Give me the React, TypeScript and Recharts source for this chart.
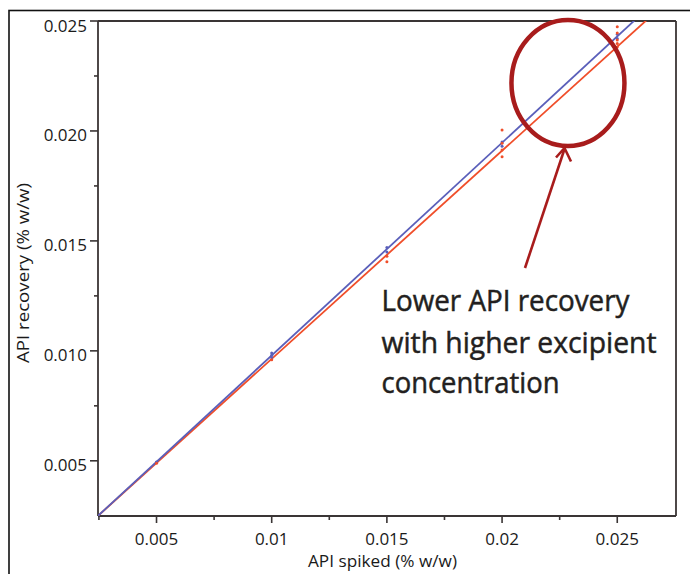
import React from "react";
import { ScatterChart, Scatter, XAxis, YAxis, ReferenceLine, ReferenceDot } from "recharts";

// ---- data ----
const xMajorTicks = [0.005, 0.01, 0.015, 0.02, 0.025];
const xTickLabels = ["0.005", "0.01", "0.015", "0.02", "0.025"];
const xMinorTicks = [0.0025, 0.0075, 0.0125, 0.0175, 0.0225];
const yMajorTicks = [0.005, 0.01, 0.015, 0.02, 0.025];
const yTickLabels = ["0.005", "0.010", "0.015", "0.020", "0.025"];
const yMinorTicks = [0.0075, 0.0125, 0.0175, 0.0225];

// replicate measurements, low excipient (blue)
const blueX = [0.005, 0.005, 0.01, 0.01, 0.01, 0.015, 0.015, 0.02, 0.02, 0.025, 0.025];
const blueY = [0.00495, 0.00492, 0.0099, 0.0098, 0.0097, 0.0147, 0.0145, 0.0195, 0.0193, 0.0244, 0.0242];
// replicate measurements, high excipient (red)
const redX = [0.005, 0.01, 0.015, 0.015, 0.02, 0.02, 0.02, 0.02, 0.025, 0.025, 0.025, 0.025, 0.025];
const redY = [0.00489, 0.0096, 0.0143, 0.01405, 0.02004, 0.01944, 0.01913, 0.01883, 0.02474, 0.02445, 0.02414, 0.02398, 0.02382];

// fitted regression lines (endpoints)
const blueFitX = [0.0024, 0.0275];
const blueFitY = [0.00244, 0.02672];
const redFitX = [0.0024, 0.0275];
const redFitY = [0.00244, 0.0262];

const circleCenterX = 0.02286;
const circleCenterY = 0.02218;

const toPts = (xs: number[], ys: number[]) => xs.map((x, i) => ({ x, y: ys[i] }));
const bluePts = toPts(blueX, blueY);
const redPts = toPts(redX, redY);
const blueFit = toPts(blueFitX, blueFitY);
const redFit = toPts(redFitX, redFitY);

const FONT = "'Open Sans', 'Noto Sans', sans-serif";
const AXIS = "#3a3535";
const BLUE = "#5a5fba";
const RED = "#f04e2a";
const DARKRED = "#a81c1c";

const near = (a: number, b: number) => Math.abs(a - b) < 1e-7;

const YTick = (props: any) => {
  const { x, y, payload } = props;
  const idx = yMajorTicks.findIndex((t) => near(t, payload.value));
  const major = idx >= 0;
  return (
    <g>
      <line x1={x} x2={x - (major ? 8 : 4)} y1={y} y2={y} stroke={AXIS} strokeWidth={1.6} />
      {major && (
        <text x={x - 11} y={y + 4} textAnchor="end" dominantBaseline="central" fontFamily={FONT} fontSize={17} fill="#1a1a1a">
          {yTickLabels[idx]}
        </text>
      )}
    </g>
  );
};

const XTick = (props: any) => {
  const { x, y, payload } = props;
  const idx = xMajorTicks.findIndex((t) => near(t, payload.value));
  const major = idx >= 0;
  return (
    <g>
      <line x1={x} x2={x} y1={y} y2={y + (major ? 7 : 4)} stroke={AXIS} strokeWidth={1.6} />
      {major && (
        <text x={x} y={y + 22} textAnchor="middle" dominantBaseline="central" fontFamily={FONT} fontSize={17} fill="#1a1a1a">
          {xTickLabels[idx]}
        </text>
      )}
    </g>
  );
};

const dot = (color: string) => (p: any) => <circle cx={p.cx} cy={p.cy} r={1.5} fill={color} />;
const noDot = () => <g />;

const Ellipse = (p: any) => (
  <ellipse cx={p.cx} cy={p.cy} rx={56.5} ry={63} fill="none" stroke={DARKRED} strokeWidth={4.5} />
);

export default function App() {
  return (
    <div style={{ position: "absolute", left: 0, top: 0, width: 690, height: 574, background: "#fff" }}>
      <ScatterChart width={690} height={574} margin={{ top: 21, right: 14, bottom: 8, left: 8 }}>
        <XAxis
          type="number"
          dataKey="x"
          domain={[0.00246, 0.02755]}
          allowDataOverflow
          ticks={[...xMinorTicks, ...xMajorTicks].sort((a, b) => a - b)}
          interval={0}
          tick={<XTick />}
          tickLine={false}
          tickSize={0}
          tickMargin={0}
          height={50}
          axisLine={{ stroke: AXIS, strokeWidth: 1.8 }}
        />
        <YAxis
          type="number"
          dataKey="y"
          domain={[0.00249, 0.025]}
          allowDataOverflow
          ticks={[...yMinorTicks, ...yMajorTicks].sort((a, b) => a - b)}
          interval={0}
          tick={<YTick />}
          tickLine={false}
          tickSize={0}
          tickMargin={0}
          width={90}
          axisLine={{ stroke: AXIS, strokeWidth: 1.8 }}
        />
        <ReferenceLine y={0.025} stroke={AXIS} strokeWidth={1.8} />
        <ReferenceLine x={0.02755} stroke={AXIS} strokeWidth={1.8} />
        <Scatter data={redFit} line={{ stroke: RED, strokeWidth: 1.8 }} shape={noDot} isAnimationActive={false} legendType="none" />
        <Scatter data={blueFit} line={{ stroke: BLUE, strokeWidth: 1.8 }} shape={noDot} isAnimationActive={false} legendType="none" />
        <Scatter data={bluePts} shape={dot(BLUE)} isAnimationActive={false} legendType="none" />
        <Scatter data={redPts} shape={dot(RED)} isAnimationActive={false} legendType="none" />
        <ReferenceDot x={circleCenterX} y={circleCenterY} ifOverflow="visible" shape={Ellipse} />
      </ScatterChart>
      <svg width={690} height={574} style={{ position: "absolute", left: 0, top: 0, pointerEvents: "none" }}>
        <rect x={9} y={10.5} width={720} height={620} fill="none" stroke="#111" strokeWidth={1.6} />
        <text
          transform="translate(29,273) rotate(-90)"
          textAnchor="middle"
          fontFamily={FONT}
          fontSize={16.5}
          fill="#1a1a1a"
          textLength={180}
          lengthAdjust="spacingAndGlyphs"
        >
          API recovery (% w/w)
        </text>
        <text x={308} y={567} fontFamily={FONT} fontSize={16.5} fill="#1a1a1a" textLength={149} lengthAdjust="spacingAndGlyphs">
          API spiked (% w/w)
        </text>
        <line x1={525} y1={268} x2={564.5} y2={149} stroke={DARKRED} strokeWidth={2.6} />
        <polyline points="556,157.5 564.5,148 571,161.5" fill="none" stroke={DARKRED} strokeWidth={2.6} strokeLinejoin="miter" />
        <g fontFamily={FONT} fontSize={30} fill="#231f20" stroke="#231f20" strokeWidth={0.5}>
          <text x={381.5} y={311} textLength={248} lengthAdjust="spacingAndGlyphs">Lower API recovery</text>
          <text x={381.5} y={353} textLength={275} lengthAdjust="spacingAndGlyphs">with higher excipient</text>
          <text x={381.5} y={393} textLength={178} lengthAdjust="spacingAndGlyphs">concentration</text>
        </g>
      </svg>
    </div>
  );
}
